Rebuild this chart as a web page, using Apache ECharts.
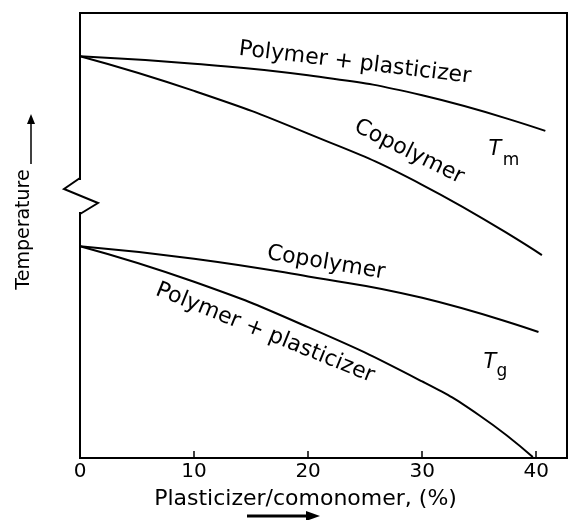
<!DOCTYPE html>
<html>
<head>
<meta charset="utf-8">
<script src="https://cdn.jsdelivr.net/npm/echarts@6/dist/echarts.min.js"></script>
<style>
  html, body { margin: 0; padding: 0; background: #fff; }
  #chart { width: 577px; height: 520px; }
</style>
</head>
<body>
<div id="chart"></div>
<script>
// composition axis: 0..40 % labelled every 10
const xTickStep = 10

// Tm, polymer + plasticizer
const tmPlastX = [0, 10, 20, 30, 40.8]
const tmPlastY = [90.3, 88.6, 86.0, 81.5, 73.5]

// Tm, copolymer
const tmCopoX = [0, 10, 20, 30, 40.5]
const tmCopoY = [90.3, 82.5, 72.9, 61.4, 45.6]

// Tg, copolymer
const tgCopoX = [0, 10, 20, 30, 40.2]
const tgCopoY = [47.6, 44.8, 40.8, 36.0, 28.3]

// Tg, polymer + plasticizer
const tgPlastX = [0, 10, 20, 30, 35, 39.7]
const tgPlastY = [47.6, 39.6, 29.4, 17.2, 9.6, 0.2]

const font = 'DejaVu Sans'

function pairs(xs, ys) {
  return xs.map((x, i) => [x, ys[i]])
}

function curve(name, xs, ys) {
  return {
    name: name,
    type: 'line',
    smooth: true,
    symbol: 'none',
    lineStyle: { color: '#000', width: 2 },
    data: pairs(xs, ys)
  }
}

// text sitting along the curves (pixel positions, rotation in radians)
function note(text, x, y, rot, size, italic) {
  return {
    type: 'text',
    x: x,
    y: y,
    rotation: rot,
    z: 10,
    style: {
      text: text,
      fill: '#000',
      font: (italic ? 'italic ' : '') + size + 'px "' + font + '"',
      align: 'center',
      verticalAlign: 'middle'
    }
  }
}

const chart = echarts.init(document.getElementById('chart'))

const option = {
  animation: false,
  backgroundColor: '#fff',
  grid: {
    left: 80,
    right: 10,
    top: 13,
    bottom: 62,
    show: true,
    borderColor: '#000',
    borderWidth: 2
  },
  xAxis: {
    type: 'value',
    min: 0,
    max: 42.7,
    interval: xTickStep,
    name: 'Plasticizer/comonomer, (%)',
    nameLocation: 'middle',
    nameGap: 30,
    nameTextStyle: {
      fontFamily: font,
      fontSize: 22,
      color: '#000',
      padding: [0, 36, 0, 0]
    },
    axisLine: { lineStyle: { color: '#000', width: 2 } },
    axisTick: {
      inside: true,
      length: 7,
      lineStyle: { color: '#000', width: 1.5 }
    },
    axisLabel: {
      showMaxLabel: false,
      fontFamily: font,
      fontSize: 20,
      color: '#000',
      margin: 4
    },
    splitLine: { show: false }
  },
  yAxis: {
    type: 'value',
    min: 0,
    max: 100,
    name: 'Temperature',
    nameLocation: 'middle',
    nameGap: 46,
    nameRotate: 90,
    nameTextStyle: {
      fontFamily: font,
      fontSize: 19,
      color: '#000',
      padding: [0, 0, 0, 12]
    },
    axisLine: { lineStyle: { color: '#000', width: 2 } },
    axisTick: { show: false },
    axisLabel: { show: false },
    splitLine: { show: false }
  },
  series: [
    curve('Tm polymer + plasticizer', tmPlastX, tmPlastY),
    curve('Tm copolymer', tmCopoX, tmCopoY),
    curve('Tg copolymer', tgCopoX, tgCopoY),
    curve('Tg polymer + plasticizer', tgPlastX, tgPlastY)
  ],
  graphic: [
    note('Polymer + plasticizer', 355, 63, -0.12, 22),
    note('Copolymer', 409, 152, -0.46, 22),
    note('Copolymer', 326, 263, -0.165, 22),
    note('Polymer + plasticizer', 265, 333, -0.385, 22),
    note('T', 495, 150, 0, 21, true),
    note('m', 511, 161, 0, 17),
    note('T', 490, 363, 0, 21, true),
    note('g', 502, 372, 0, 17),

    // axis break on the temperature axis
    {
      type: 'rect',
      z: 10,
      shape: { x: 76, y: 180, width: 8, height: 32 },
      style: { fill: '#fff' }
    },
    {
      type: 'polyline',
      z: 11,
      shape: { points: [[80, 178], [64, 189], [98, 203], [80, 214]] },
      style: { stroke: '#000', lineWidth: 2, fill: null }
    },

    // arrow after "Temperature"
    {
      type: 'line',
      z: 10,
      shape: { x1: 31, y1: 164, x2: 31, y2: 122 },
      style: { stroke: '#000', lineWidth: 1.5 }
    },
    {
      type: 'polygon',
      z: 10,
      shape: { points: [[31, 114], [27, 124], [35, 124]] },
      style: { fill: '#000' }
    },

    // arrow under the composition label
    {
      type: 'line',
      z: 10,
      shape: { x1: 247, y1: 516, x2: 308, y2: 516 },
      style: { stroke: '#000', lineWidth: 3 }
    },
    {
      type: 'polygon',
      z: 10,
      shape: { points: [[320, 516], [306, 511], [306, 521]] },
      style: { fill: '#000' }
    }
  ]
}

chart.setOption(option)
</script>
</body>
</html>
